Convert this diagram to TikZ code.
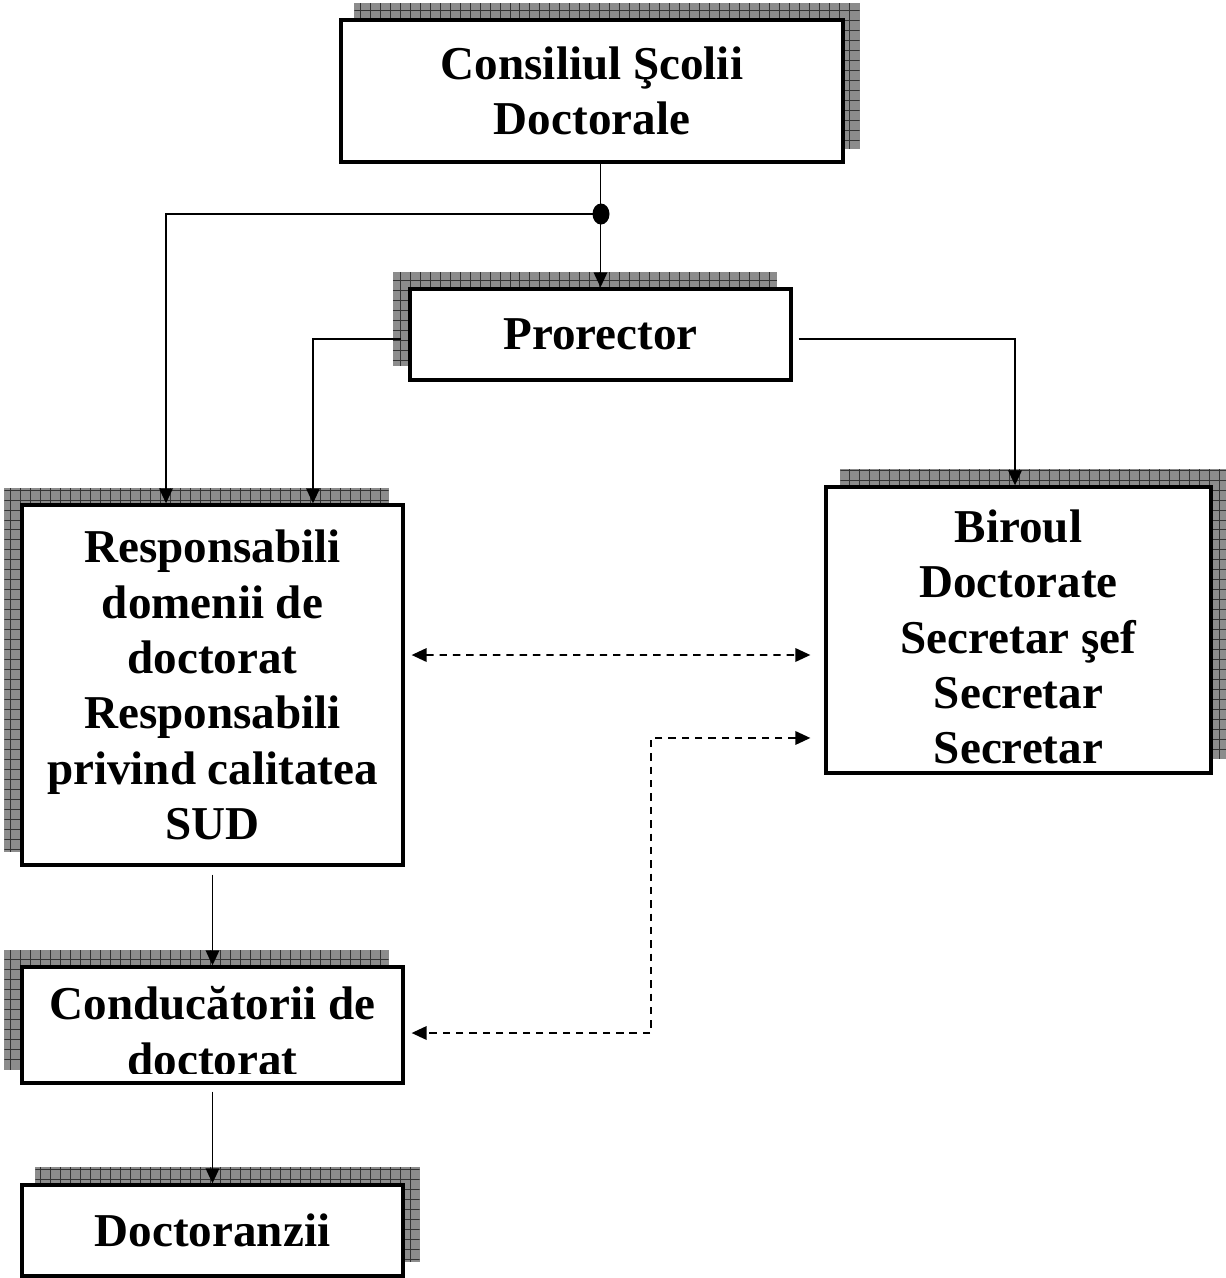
\documentclass[tikz,border=0pt]{standalone}
\usepackage{fontspec}
\setmainfont{Liberation Serif}
\usetikzlibrary{arrows.meta,backgrounds}
\newcommand\shadowof[3]{%
  \fill[shadowfill] ([shift={(#2,#3)}]#1.south west) rectangle ([shift={(#2,#3)}]#1.north east);
  \begin{scope}
    \clip ([shift={(#2,#3)}]#1.south west) rectangle ([shift={(#2,#3)}]#1.north east);
    \draw[shadowgrid,step=0.2cm] ([shift={(#2,#3)}]#1.south west) grid ([shift={(#2,#3)}]#1.north east);
  \end{scope}}
\begin{document}
\begin{tikzpicture}[x=0.02cm,y=-0.02cm,
  txt/.style={align=center,inner sep=0pt,font=\bfseries\fontsize{26.8}{31.5}\selectfont},
  box/.style={draw,line width=1.9pt,fill=white,inner sep=0pt,txt},
  tip/.tip={Triangle[length=0.3cm,width=0.27cm]},
  conn/.style={line width=1.05pt,-tip},
  dconn/.style={line width=1.05pt,dash pattern=on 4.2pt off 3.4pt,tip-tip},
  shadowfill/.style={fill=black!45},
  shadowgrid/.style={draw=black!80,line width=0.45pt}
]
\useasboundingbox (0,0) rectangle (1225,1278);

% boxes
\node[box,minimum width=10.04cm,minimum height=2.84cm] (A) at (592,91) {Consiliul Şcolii\\Doctorale};
\node[box,minimum width=7.62cm,minimum height=1.82cm] (B) at (600.5,334.5) {Prorector};
\node[box,minimum width=7.62cm,minimum height=7.2cm] (C) at (212.5,685) {Responsabili\\domenii de\\doctorat\\Responsabili\\privind calitatea\\SUD};
\node[box,minimum width=7.7cm,minimum height=5.72cm] (D) at (1018.5,630) {};
\node[txt] (Dt) at (1018.5,637) {Biroul\\Doctorate\\Secretar şef\\Secretar\\Secretar};
\node[box,minimum width=7.62cm,minimum height=2.32cm] (E) at (212.5,1025) {};
\begin{scope}
  \clip (E.north west) rectangle ([yshift=0.22cm]E.south east);
  \node[txt] (Et) at (212.5,1031) {Conducătorii de\\doctorat};
\end{scope}
\node[box,minimum width=7.62cm,minimum height=1.82cm] (F) at (212.5,1230.5) {Doctoranzii};

% shadows
\begin{pgfonlayer}{background}
  \shadowof{A}{0.3cm}{0.3cm}
  \shadowof{B}{-0.31cm}{0.31cm}
  \shadowof{C}{-0.32cm}{0.3cm}
  \shadowof{D}{0.32cm}{0.32cm}
  \shadowof{E}{-0.32cm}{0.3cm}
  \shadowof{F}{0.3cm}{0.32cm}
\end{pgfonlayer}

% connectors
\coordinate (J) at (601,214);
\draw[conn] (A.south -| B.north) -- (B.north);
\fill (J) ellipse [x radius=0.17cm, y radius=0.21cm];
\draw[conn] (J) -| ([xshift=-0.93cm]C.north);
\draw[conn] ([shift={(-0.15cm,-0.09cm)}]B.west) -| ([xshift=2.01cm]C.north);
\draw[conn] ([shift={(0.12cm,-0.09cm)}]B.east) -| ([xshift=-0.07cm]D.north);
\draw[dconn] ([shift={(0.14cm,0.6cm)}]C.east) -- ([shift={(-0.28cm,-0.5cm)}]D.west);
\coordinate (d2) at ([shift={(-0.28cm,-2.16cm)}]D.west);
\coordinate (e2) at ([shift={(0.14cm,-0.16cm)}]E.east);
\coordinate (k) at (651,900);
\draw[dconn] (d2) -- (d2 -| k) -- (e2 -| k) -- (e2);
\draw[conn] ([yshift=-0.16cm]C.south) -- (E.north);
\draw[conn] ([yshift=-0.14cm]E.south) -- (F.north);
\end{tikzpicture}
\end{document}
